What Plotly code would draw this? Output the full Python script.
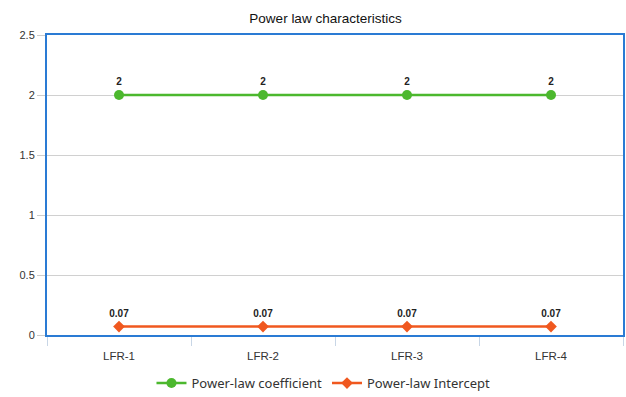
import plotly.graph_objects as go

categories = ["LFR-1", "LFR-2", "LFR-3", "LFR-4"]
coef = [2, 2, 2, 2]
intercept = [0.07, 0.07, 0.07, 0.07]
coef_labels = ["2", "2", "2", "2"]
intercept_labels = ["0.07", "0.07", "0.07", "0.07"]

fig = go.Figure()
fig.add_trace(go.Scatter(
    x=categories, y=coef, name="Power-law coefficient",
    mode="lines+markers+text", text=coef_labels, textposition="top center",
    textfont=dict(family="Arial, Liberation Sans", size=10, color="#222"),
    line=dict(color="#4cb82e", width=2.5),
    marker=dict(symbol="circle", size=10, color="#4cb82e"),
))
fig.add_trace(go.Scatter(
    x=categories, y=intercept, name="Power-law Intercept",
    mode="lines+markers+text", text=intercept_labels, textposition="top center",
    textfont=dict(family="Arial, Liberation Sans", size=10, color="#222"),
    line=dict(color="#f0581f", width=2.5),
    marker=dict(symbol="diamond", size=9, color="#f0581f"),
))
for tr in fig.data:
    tr.texttemplate = "<b>%{text}</b>"

fig.update_layout(
    width=626, height=397,
    margin=dict(l=47, r=3, t=35, b=62, autoexpand=False),
    paper_bgcolor="white", plot_bgcolor="white",
    font=dict(family="Liberation Sans, Arial", size=11, color="#333"),
    title=dict(text="Power law characteristics", x=0.52, xanchor="center",
               y=0.955, yanchor="middle", font=dict(size=13.5, color="#111")),
    showlegend=True,
    legend=dict(orientation="h", x=0.48, xanchor="center", yref="container",
                y=0.035, yanchor="middle", itemwidth=30,
                font=dict(family="Noto Sans, Liberation Sans", size=13, color="#333")),
    xaxis=dict(range=[-0.5, 3.5], showline=True, mirror=True, linecolor="#2a7bd4", linewidth=2,
               ticks="outside", tickson="boundaries", tickcolor="#c8d6e6", ticklen=9,
               ticklabelstandoff=9,
               showgrid=False, tickfont=dict(size=11.5, color="#333")),
    yaxis=dict(range=[0, 2.5], dtick=0.5, showline=True, mirror=True,
               linecolor="#2a7bd4", linewidth=2,
               ticks="outside", tickcolor="#cccccc", ticklen=8,
               showgrid=True, gridcolor="#d0d0d0", zeroline=False,
               tickfont=dict(size=11, color="#333")),
)
fig.write_html("out.html")
